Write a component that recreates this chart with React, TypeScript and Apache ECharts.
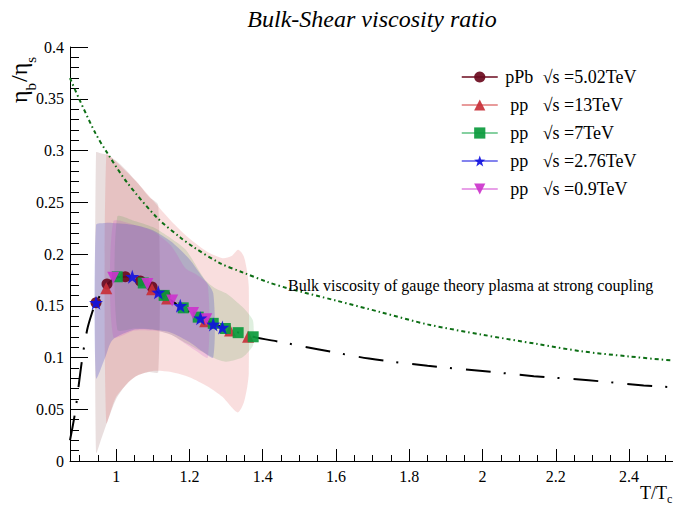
import React, { useEffect, useRef } from "react";
import * as echarts from "echarts";

const FONT = "Liberation Serif";

const X_MIN = 0.874;
const X_MAX = 2.52;
const Y_MIN = 0;
const Y_MAX = 0.4;
const xTickLabels = [1, 1.2, 1.4, 1.6, 1.8, 2, 2.2, 2.4];
const xMinorTicks = [0.9, 0.95, 1.05, 1.1, 1.15, 1.25, 1.3, 1.35, 1.45, 1.5, 1.55, 1.65, 1.7, 1.75, 1.85, 1.9, 1.95, 2.05, 2.1, 2.15, 2.25, 2.3, 2.35, 2.45, 2.5];

// ---- data points (T/Tc, eta_b/eta_s) ----
const pPbT = [0.945, 0.975, 1.025, 1.066, 1.098, 1.134];
const pPbV = [0.153, 0.171, 0.178, 0.174, 0.168, 0.16];
const pp13T = [0.973, 1.098, 1.139, 1.243, 1.311, 1.36];
const pp13V = [0.167, 0.166, 0.157, 0.135, 0.126, 0.12];
const pp7T = [1.003, 1.074, 1.131, 1.183, 1.224, 1.265, 1.298, 1.333, 1.374];
const pp7V = [0.178, 0.172, 0.16, 0.148, 0.139, 0.133, 0.128, 0.124, 0.12];
const pp276T = [0.945, 1.044, 1.115, 1.175, 1.23, 1.265, 1.29];
const pp276V = [0.153, 0.178, 0.163, 0.15, 0.138, 0.132, 0.129];
const pp09T = [0.992, 1.085, 1.153, 1.21, 1.246];
const pp09V = [0.177, 0.171, 0.155, 0.143, 0.137];

// ---- uncertainty bands ----
const pPbBandT = [0.945, 0.96, 0.975, 1.0, 1.03, 1.06, 1.09, 1.115];
const pPbBandUp = [0.298, 0.297, 0.296, 0.29, 0.28, 0.268, 0.255, 0.247];
const pPbBandLo = [0.008, 0.022, 0.037, 0.06, 0.075, 0.083, 0.086, 0.086];

const pp13BandT = [0.973, 1.0, 1.05, 1.1, 1.15, 1.2, 1.25, 1.29, 1.315, 1.333, 1.348, 1.358, 1.362];
const pp13BandUp = [0.296, 0.289, 0.272, 0.252, 0.232, 0.215, 0.202, 0.196, 0.198, 0.204, 0.198, 0.182, 0.168];
const pp13BandLo = [0.037, 0.062, 0.081, 0.087, 0.086, 0.081, 0.072, 0.062, 0.052, 0.047, 0.056, 0.072, 0.085];

const pp7BandT = [1.003, 1.05, 1.1, 1.15, 1.19, 1.243, 1.27, 1.3, 1.344, 1.362, 1.374];
const pp7BandUp = [0.236, 0.232, 0.226, 0.215, 0.204, 0.175, 0.167, 0.162, 0.149, 0.142, 0.135];
const pp7BandLo = [0.127, 0.128, 0.127, 0.122, 0.114, 0.104, 0.099, 0.096, 0.1, 0.106, 0.112];

const pp276BandT = [0.945, 0.97, 0.99, 1.05, 1.1, 1.15, 1.2, 1.235, 1.265];
const pp276BandUp = [0.228, 0.23, 0.23, 0.228, 0.223, 0.212, 0.195, 0.178, 0.162];
const pp276BandLo = [0.08, 0.1, 0.117, 0.127, 0.127, 0.124, 0.115, 0.106, 0.1];

const pp09BandT = [0.992, 1.05, 1.1, 1.15, 1.19, 1.22, 1.25];
const pp09BandUp = [0.231, 0.228, 0.222, 0.208, 0.186, 0.18, 0.17];
const pp09BandLo = [0.12, 0.126, 0.126, 0.122, 0.113, 0.106, 0.1];

// ---- curves ----
const holoT = [0.874, 0.9, 0.943, 0.975, 1.03, 1.112, 1.175, 1.21, 1.284, 1.347, 1.413, 1.467, 1.6, 1.72, 1.85, 2.0, 2.15, 2.27, 2.4, 2.52];
const holoV = [0.37, 0.349, 0.317, 0.298, 0.269, 0.235, 0.216, 0.207, 0.191, 0.182, 0.173, 0.167, 0.155, 0.144, 0.132, 0.122, 0.113, 0.106, 0.101, 0.097];

const fitT = [0.874, 0.888, 0.907, 0.921, 0.934, 0.945, 0.975, 1.0, 1.03, 1.07, 1.1, 1.15, 1.2, 1.25, 1.3, 1.374, 1.448, 1.55, 1.69, 1.85, 2.0, 2.14, 2.29, 2.44, 2.52];
const fitV = [0.02, 0.047, 0.098, 0.127, 0.143, 0.153, 0.17, 0.177, 0.178, 0.173, 0.166, 0.155, 0.144, 0.135, 0.128, 0.12, 0.115, 0.108, 0.099, 0.092, 0.087, 0.082, 0.078, 0.073, 0.0712];

const STAR = "path://M0,-10 L2.35,-3.24 L9.51,-3.09 L3.8,1.24 L5.88,8.09 L0,4 L-5.88,8.09 L-3.8,1.24 L-9.51,-3.09 L-2.35,-3.24 Z";

const groups = [
  { name: "pPb 5.02", sys: "pPb", energy: "5.02TeV", T: pPbT, V: pPbV, symbol: "circle", size: 11, rotate: 0, color: "#6b0a1e", line: "#6b0a1e", bT: pPbBandT, bU: pPbBandUp, bL: pPbBandLo, band: "rgba(85,0,0,0.13)", order: 0 },
  { name: "pp 13", sys: "pp", energy: "13TeV", T: pp13T, V: pp13V, symbol: "triangle", size: 12, rotate: 0, color: "#c83038", line: "#e07a7a", bT: pp13BandT, bU: pp13BandUp, bL: pp13BandLo, band: "rgba(220,60,60,0.17)", order: 1 },
  { name: "pp 7", sys: "pp", energy: "7TeV", T: pp7T, V: pp7V, symbol: "rect", size: 11, rotate: 0, color: "#0a9a3c", line: "#5cc080", bT: pp7BandT, bU: pp7BandUp, bL: pp7BandLo, band: "rgba(40,150,40,0.15)", order: 2 },
  { name: "pp 2.76", sys: "pp", energy: "2.76TeV", T: pp276T, V: pp276V, symbol: STAR, size: 14, rotate: 0, color: "#1212e0", line: "#5a5ae8", bT: pp276BandT, bU: pp276BandUp, bL: pp276BandLo, band: "rgba(60,60,200,0.25)", order: 4 },
  { name: "pp 0.9", sys: "pp", energy: "0.9TeV", T: pp09T, V: pp09V, symbol: "triangle", size: 12, rotate: 180, color: "#cc33cc", line: "#e080e0", bT: pp09BandT, bU: pp09BandUp, bL: pp09BandLo, band: "rgba(200,60,200,0.18)", order: 3 },
];

function measure(text: string, size: number): number {
  const c = document.createElement("canvas").getContext("2d");
  if (!c) return text.length * size * 0.5;
  c.font = `${size}px "${FONT}"`;
  return c.measureText(text).width;
}

function txt(text: string, size: number, extra: any = {}) {
  return { text, fontFamily: FONT, fontSize: size, fill: "#000", ...extra };
}

export default function App() {
  const ref = useRef<HTMLDivElement>(null);
  useEffect(() => {
    if (!ref.current) return;
    const chart = echarts.init(ref.current, undefined, { renderer: "svg" });

    const bandSeries = groups.map((g) => ({
      type: "custom",
      name: g.name + " band",
      coordinateSystem: "cartesian2d",
      xAxisIndex: 0,
      yAxisIndex: 0,
      silent: true,
      z: 1,
      data: [[g.bT[0], g.bU[0]]],
      renderItem: (_p: any, api: any) => {
        const pts: number[][] = [];
        for (let i = 0; i < g.bT.length; i++) pts.push(api.coord([g.bT[i], g.bU[i]]));
        for (let i = g.bT.length - 1; i >= 0; i--) pts.push(api.coord([g.bT[i], g.bL[i]]));
        return { type: "polygon", shape: { points: pts, smooth: 0.25 }, style: { fill: g.band, stroke: "none" } };
      },
    }));

    const markerSeries = [...groups]
      .sort((a, b) => a.order - b.order)
      .map((g) => ({
        type: "line",
        name: g.name,
        xAxisIndex: 0,
        yAxisIndex: 0,
        z: 5,
        symbol: g.symbol,
        symbolSize: g.size,
        symbolRotate: g.rotate,
        showSymbol: true,
        showAllSymbol: true,
        lineStyle: { width: 0, opacity: 0 },
        itemStyle: { color: g.color, opacity: 0.92 },
        data: g.T.map((t, i) => [t, g.V[i]]),
        silent: true,
      }));

    // y axis title pieces
    const yPieces = [
      { t: "η", s: 24, sub: false },
      { t: "b", s: 15, sub: true },
      { t: "/η", s: 24, sub: false },
      { t: "s", s: 15, sub: true },
    ];
    const yTitle: any[] = [];
    let cur = 103;
    for (const p of yPieces) {
      yTitle.push({
        type: "text",
        x: p.sub ? 31 : 19,
        y: cur,
        rotation: Math.PI / 2,
        style: txt(p.t, p.s, { align: "left", verticalAlign: "middle" }),
      });
      cur -= measure(p.t, p.s) + (p.sub ? 1 : 0);
    }

    chart.setOption({
      animation: false,
      backgroundColor: "#ffffff",
      textStyle: { fontFamily: FONT, color: "#000" },
      grid: { left: 70, right: 0, top: 47, bottom: 45, containLabel: false },
      xAxis: [
        {
          type: "value",
          min: X_MIN,
          max: X_MAX,
          position: "bottom",
          axisLine: { show: true, onZero: false, lineStyle: { color: "#000", width: 1 } },
          axisTick: { show: true, inside: true, length: 12, customValues: xTickLabels, lineStyle: { color: "#000" } },
          axisLabel: { customValues: xTickLabels, formatter: (v: number) => String(v), fontFamily: FONT, fontSize: 16, color: "#000", margin: 7 },
          splitLine: { show: false },
        },
        {
          type: "value",
          min: X_MIN,
          max: X_MAX,
          position: "bottom",
          axisLine: { show: false, onZero: false },
          axisTick: { show: true, inside: true, length: 6, customValues: xMinorTicks, lineStyle: { color: "#000" } },
          axisLabel: { show: false },
          splitLine: { show: false },
        },
      ],
      yAxis: {
        type: "value",
        min: Y_MIN,
        max: Y_MAX,
        interval: 0.05,
        axisLine: { show: true, onZero: false, lineStyle: { color: "#000", width: 1 } },
        axisTick: { show: true, inside: true, length: 18, lineStyle: { color: "#000" } },
        minorTick: { show: true, splitNumber: 5, length: 9, lineStyle: { color: "#000" } },
        axisLabel: { formatter: (v: number) => String(+v.toFixed(2)), fontFamily: FONT, fontSize: 16, color: "#000", margin: 6 },
        splitLine: { show: false },
      },
      legend: {
        orient: "vertical",
        left: 456,
        top: 63,
        itemWidth: 36,
        itemHeight: 14,
        itemGap: 10,
        selectedMode: false,
        textStyle: {
          fontFamily: FONT,
          fontSize: 18,
          color: "#000",
          rich: {
            a: { width: 33, align: "center", fontFamily: FONT, fontSize: 18, color: "#000" },
            b: { fontFamily: FONT, fontSize: 18, color: "#000", padding: [0, 0, 0, 7] },
          },
        },
        formatter: (name: string) => {
          const g = groups.find((x) => x.name === name)!;
          return `{a|${g.sys}}{b|√s =${g.energy}}`;
        },
        data: groups.map((g) => ({ name: g.name, lineStyle: { color: g.line, width: 1.5, opacity: 1, type: "solid" } })),
      },
      series: [
        ...bandSeries,
        {
          type: "line",
          name: "holo",
          xAxisIndex: 0,
          yAxisIndex: 0,
          z: 3,
          smooth: 0.3,
          symbol: "none",
          silent: true,
          lineStyle: { color: "#0c6e14", width: 2, type: [4, 3, 1.5, 3] },
          data: holoT.map((t, i) => [t, holoV[i]]),
        },
        {
          type: "line",
          name: "fit",
          xAxisIndex: 0,
          yAxisIndex: 0,
          z: 3,
          smooth: 0.3,
          symbol: "none",
          silent: true,
          lineStyle: { color: "#000", width: 2, type: [25, 13, 2, 14] },
          data: fitT.map((t, i) => [t, fitV[i]]),
        },
        ...markerSeries,
      ],
      graphic: [
        {
          type: "text",
          x: 372,
          y: 18.5,
          style: txt("Bulk-Shear viscosity ratio", 24, { fontStyle: "italic", align: "center", verticalAlign: "middle" }),
        },
        {
          type: "text",
          x: 288,
          y: 285,
          z: 10,
          style: txt("Bulk viscosity of gauge theory plasma at strong coupling", 16, { align: "left", verticalAlign: "middle" }),
        },
        {
          type: "text",
          x: 667,
          y: 493,
          style: txt("T/T", 18, { align: "right", verticalAlign: "middle" }),
        },
        {
          type: "text",
          x: 667,
          y: 499,
          style: txt("c", 12, { align: "left", verticalAlign: "middle" }),
        },
        ...yTitle,
      ],
    });
    return () => chart.dispose();
  }, []);
  return <div ref={ref} style={{ position: "fixed", left: 0, top: 0, width: 673, height: 506, background: "#fff" }} />;
}
